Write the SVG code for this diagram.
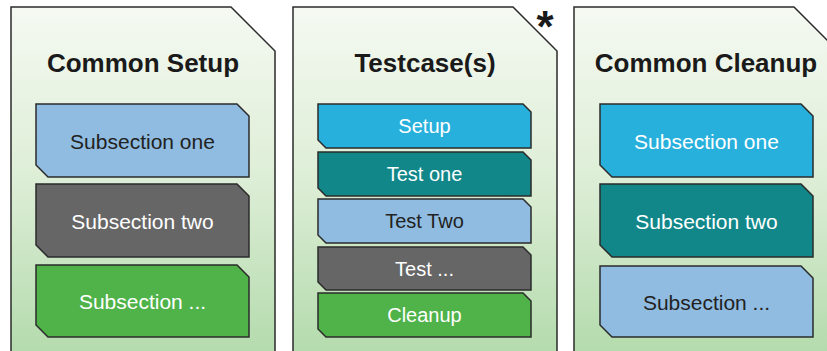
<svg xmlns="http://www.w3.org/2000/svg" width="827" height="351" viewBox="0 0 827 351">
<defs>
<linearGradient id="pg" gradientUnits="userSpaceOnUse" x1="0" y1="7" x2="0" y2="351">
<stop offset="0" stop-color="#f5f9f2"/>
<stop offset="0.5" stop-color="#ddeed6"/>
<stop offset="1" stop-color="#b4dbad"/>
</linearGradient>
</defs>
<style>
.panel{fill:url(#pg);stroke:#2b2b2b;stroke-width:1.5}
.box{stroke:#2b2b2b;stroke-width:1.5}
.title{font-family:"Liberation Sans",Arial,sans-serif;font-weight:bold;font-size:26px;fill:#1a1a1a;text-anchor:middle}
.lbl{font-family:"Liberation Sans",Arial,sans-serif;font-size:21px;text-anchor:middle}
.sm{font-size:20px}
.w{fill:#ffffff}
.d{fill:#222222}
.lb{fill:#8fbce0}
.gy{fill:#666666}
.gr{fill:#4fb34a}
.cy{fill:#28b0dc}
.tl{fill:#12878a}
</style>
<g id="common-setup">
<path class="panel" d="M11,7 H231 L275,51 V360 H11 Z"/>
<text class="title" x="143" y="72">Common Setup</text>
<g id="cs-sub1"><path class="box lb" d="M36,104 H237 L249,116 V177 H48 L36,165 Z"/><text class="lbl d" x="142.5" y="148.5">Subsection one</text></g>
<g id="cs-sub2"><path class="box gy" d="M36,184 H237 L249,196 V257 H48 L36,245 Z"/><text class="lbl w" x="142.5" y="228.5">Subsection two</text></g>
<g id="cs-sub3"><path class="box gr" d="M36,265 H237 L249,277 V337 H48 L36,325 Z"/><text class="lbl w" x="142.5" y="309">Subsection ...</text></g>
</g>
<g id="testcases">
<path class="panel" d="M293,7 H513 L557,51 V360 H293 Z"/>
<text x="545" y="42" style="font-family:'Liberation Sans',Arial,sans-serif;font-weight:bold;font-size:44px;fill:#1a1a1a;text-anchor:middle">*</text>
<text class="title" x="425" y="72">Testcase(s)</text>
<g id="tc-setup"><path class="box cy" d="M318,104 H523 L531,112 V148 H326 L318,140 Z"/><text class="lbl sm w" x="424.5" y="133">Setup</text></g>
<g id="tc-test1"><path class="box tl" d="M318,152 H523 L531,160 V196 H326 L318,188 Z"/><text class="lbl sm w" x="424.5" y="181">Test one</text></g>
<g id="tc-test2"><path class="box lb" d="M318,199 H523 L531,207 V243 H326 L318,235 Z"/><text class="lbl sm d" x="424.5" y="228">Test Two</text></g>
<g id="tc-test3"><path class="box gy" d="M318,247 H523 L531,255 V290 H326 L318,282 Z"/><text class="lbl sm w" x="424.5" y="275.5">Test ...</text></g>
<g id="tc-cleanup"><path class="box gr" d="M318,293 H523 L531,301 V337 H326 L318,329 Z"/><text class="lbl sm w" x="424.5" y="322">Cleanup</text></g>
</g>
<g id="common-cleanup">
<path class="panel" d="M574,7 H794 L838,51 V360 H574 Z"/>
<text class="title" x="706" y="72">Common Cleanup</text>
<g id="cc-sub1"><path class="box cy" d="M600,104 H801 L813,116 V177 H612 L600,165 Z"/><text class="lbl w" x="706.5" y="148.5">Subsection one</text></g>
<g id="cc-sub2"><path class="box tl" d="M600,184 H801 L813,196 V257 H612 L600,245 Z"/><text class="lbl w" x="706.5" y="228.5">Subsection two</text></g>
<g id="cc-sub3"><path class="box lb" d="M600,266 H801 L813,278 V337 H612 L600,325 Z"/><text class="lbl d" x="706.5" y="309.5">Subsection ...</text></g>
</g>
<g id="connectors"></g>
</svg>
